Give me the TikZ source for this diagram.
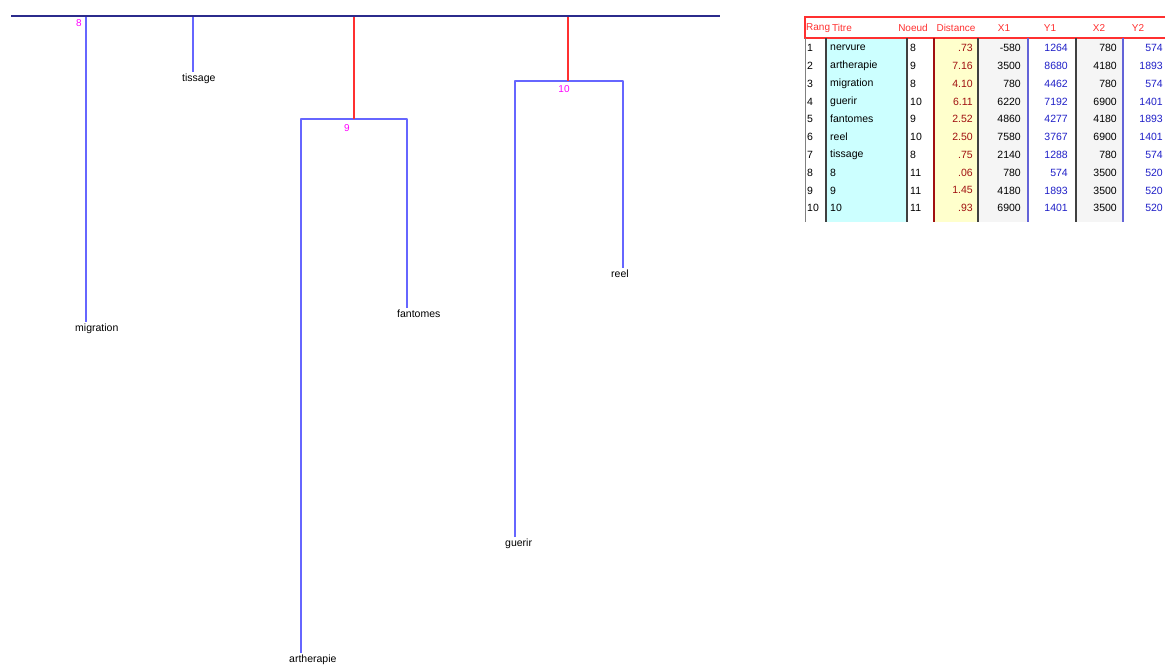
\documentclass[tikz,border=0pt]{standalone}
\usepackage{fontspec}
\setmainfont{Liberation Sans}
\usepackage{tikz}
\definecolor{lien}{HTML}{6666ff}
\definecolor{rouge}{HTML}{ff3030}
\definecolor{marine}{HTML}{2b2b8c}
\definecolor{rose}{HTML}{ff00ff}
\definecolor{ciel}{HTML}{ccffff}
\definecolor{creme}{HTML}{ffffcc}
\definecolor{gris}{HTML}{f5f5f5}
\definecolor{bordeaux}{HTML}{a01010}
\definecolor{bleutxt}{HTML}{2020c8}
\definecolor{sombre}{HTML}{404040}

\begin{document}
\begin{tikzpicture}[x=1pt, y=-1pt,
  lien/.style={draw=lien, line width=2pt, line join=round},
  rougetrait/.style={draw=rouge, line width=2pt},
  feuille/.style={font=\fontsize{10.5}{12}\selectfont, anchor=north west, inner sep=2pt},
  num/.style={font=\fontsize{10}{11}\selectfont, text=rose, inner sep=0pt},
  tete/.style={font=\fontsize{10}{11}\selectfont, text=rouge, inner sep=0pt},
  cg/.style={font=\fontsize{10.5}{11}\selectfont, anchor=west, inner sep=0pt},
  cd/.style={font=\fontsize{10.5}{11}\selectfont, anchor=east, inner sep=0pt}]
\useasboundingbox[fill=white] (0,0) rectangle (1165,666);

% Dendrogram
\coordinate (hautg) at (11,16);
\coordinate (hautd) at (720,16);
\coordinate (c8) at (86,16);
\coordinate (ct) at (193,16);
\coordinate (c9) at (354,119);
\coordinate (g9) at (301,119);
\coordinate (d9) at (407,119);
\coordinate (c10) at (568,81);
\coordinate (g10) at (515,81);
\coordinate (d10) at (623,81);

% Leaves
\node[feuille] (migration) at (73,322) {migration};
\node[feuille] (tissage) at (180,72) {tissage};
\node[feuille] (artherapie) at (287,653) {artherapie};
\node[feuille] (fantomes) at (395,308) {fantomes};
\node[feuille] (guerir) at (503,537) {guerir};
\node[feuille] (reel) at (609,268) {reel};

% Branches
\draw[lien] (c8) -- (c8 |- migration.north);
\draw[lien] (ct) -- (ct |- tissage.north);
\draw[lien] (g9 |- artherapie.north) -- (g9) -- (d9) -- (d9 |- fantomes.north);
\draw[lien] (g10 |- guerir.north) -- (g10) -- (d10) -- (d10 |- reel.north);
\draw[rougetrait] (c9 |- hautg) -- (c9);
\draw[rougetrait] (c10 |- hautg) -- (c10);
\draw[draw=marine, line width=2pt] (hautg) -- (hautd);

% Node numbers
\node[num] (n8) at (79,23) {8};
\node[num] (n9) at (347,128) {9};
\node[num] (n10) at (564,89) {10};

% Table background
\fill[ciel] (827,38) rectangle (906,222);
\fill[creme] (935,38) rectangle (977,222);
\fill[gris] (979,38) rectangle (1027,222);
\fill[gris] (1077,38) rectangle (1122,222);

% Table lines
\draw[rouge, line width=1.2pt] (1166,17) -- (805,17) -- (805,38) -- (1166,38);
\draw[gray, line width=1pt] (805,38) -- (805,222);
\draw[sombre, line width=1.5pt] (826,38) -- (826,222);
\draw[sombre, line width=1.5pt] (907,38) -- (907,222);
\draw[bordeaux, line width=1.5pt] (934,38) -- (934,222);
\draw[sombre, line width=1.5pt] (978,38) -- (978,222);
\draw[bleutxt!70, line width=1.5pt] (1028,38) -- (1028,222);
\draw[sombre, line width=1.5pt] (1076,38) -- (1076,222);
\draw[bleutxt!70, line width=1.5pt] (1123,38) -- (1123,222);

% Header
\node[tete, anchor=west] (hrang) at (806,28) {Rang};
\node[tete, anchor=west] (htitre) at (832,28) {Titre};
\node[tete] (hnoeud) at (913,28) {Noeud};
\node[tete] (hdist) at (956,28) {Distance};
\node[tete] (hxa) at (1004,28) {X1};
\node[tete] (hya) at (1050,28) {Y1};
\node[tete] (hxb) at (1099,28) {X2};
\node[tete] (hyb) at (1138,28) {Y2};

% Rows
\node[cg] (rang1) at (807,48) {1}; \node[cg] (titre1) at (830,48) {nervure}; \node[cg] (noeud1) at (910,48) {8}; \node[cd, text=bordeaux] (dist1) at (973,48) {.73}; \node[cd] (xa1) at (1021,48) {-580}; \node[cd, text=bleutxt] (ya1) at (1068,48) {1264}; \node[cd] (xb1) at (1117,48) {780}; \node[cd, text=bleutxt] (yb1) at (1163,48) {574};
\node[cg] (rang2) at (807,65.8) {2}; \node[cg] (titre2) at (830,65.8) {artherapie}; \node[cg] (noeud2) at (910,65.8) {9}; \node[cd, text=bordeaux] (dist2) at (973,65.8) {7.16}; \node[cd] (xa2) at (1021,65.8) {3500}; \node[cd, text=bleutxt] (ya2) at (1068,65.8) {8680}; \node[cd] (xb2) at (1117,65.8) {4180}; \node[cd, text=bleutxt] (yb2) at (1163,65.8) {1893};
\node[cg] (rang3) at (807,83.6) {3}; \node[cg] (titre3) at (830,83.6) {migration}; \node[cg] (noeud3) at (910,83.6) {8}; \node[cd, text=bordeaux] (dist3) at (973,83.6) {4.10}; \node[cd] (xa3) at (1021,83.6) {780}; \node[cd, text=bleutxt] (ya3) at (1068,83.6) {4462}; \node[cd] (xb3) at (1117,83.6) {780}; \node[cd, text=bleutxt] (yb3) at (1163,83.6) {574};
\node[cg] (rang4) at (807,101.4) {4}; \node[cg] (titre4) at (830,101.4) {guerir}; \node[cg] (noeud4) at (910,101.4) {10}; \node[cd, text=bordeaux] (dist4) at (973,101.4) {6.11}; \node[cd] (xa4) at (1021,101.4) {6220}; \node[cd, text=bleutxt] (ya4) at (1068,101.4) {7192}; \node[cd] (xb4) at (1117,101.4) {6900}; \node[cd, text=bleutxt] (yb4) at (1163,101.4) {1401};
\node[cg] (rang5) at (807,119.2) {5}; \node[cg] (titre5) at (830,119.2) {fantomes}; \node[cg] (noeud5) at (910,119.2) {9}; \node[cd, text=bordeaux] (dist5) at (973,119.2) {2.52}; \node[cd] (xa5) at (1021,119.2) {4860}; \node[cd, text=bleutxt] (ya5) at (1068,119.2) {4277}; \node[cd] (xb5) at (1117,119.2) {4180}; \node[cd, text=bleutxt] (yb5) at (1163,119.2) {1893};
\node[cg] (rang6) at (807,137) {6}; \node[cg] (titre6) at (830,137) {reel}; \node[cg] (noeud6) at (910,137) {10}; \node[cd, text=bordeaux] (dist6) at (973,137) {2.50}; \node[cd] (xa6) at (1021,137) {7580}; \node[cd, text=bleutxt] (ya6) at (1068,137) {3767}; \node[cd] (xb6) at (1117,137) {6900}; \node[cd, text=bleutxt] (yb6) at (1163,137) {1401};
\node[cg] (rang7) at (807,154.8) {7}; \node[cg] (titre7) at (830,154.8) {tissage}; \node[cg] (noeud7) at (910,154.8) {8}; \node[cd, text=bordeaux] (dist7) at (973,154.8) {.75}; \node[cd] (xa7) at (1021,154.8) {2140}; \node[cd, text=bleutxt] (ya7) at (1068,154.8) {1288}; \node[cd] (xb7) at (1117,154.8) {780}; \node[cd, text=bleutxt] (yb7) at (1163,154.8) {574};
\node[cg] (rang8) at (807,172.6) {8}; \node[cg] (titre8) at (830,172.6) {8}; \node[cg] (noeud8) at (910,172.6) {11}; \node[cd, text=bordeaux] (dist8) at (973,172.6) {.06}; \node[cd] (xa8) at (1021,172.6) {780}; \node[cd, text=bleutxt] (ya8) at (1068,172.6) {574}; \node[cd] (xb8) at (1117,172.6) {3500}; \node[cd, text=bleutxt] (yb8) at (1163,172.6) {520};
\node[cg] (rang9) at (807,190.4) {9}; \node[cg] (titre9) at (830,190.4) {9}; \node[cg] (noeud9) at (910,190.4) {11}; \node[cd, text=bordeaux] (dist9) at (973,190.4) {1.45}; \node[cd] (xa9) at (1021,190.4) {4180}; \node[cd, text=bleutxt] (ya9) at (1068,190.4) {1893}; \node[cd] (xb9) at (1117,190.4) {3500}; \node[cd, text=bleutxt] (yb9) at (1163,190.4) {520};
\node[cg] (rang10) at (807,208.2) {10}; \node[cg] (titre10) at (830,208.2) {10}; \node[cg] (noeud10) at (910,208.2) {11}; \node[cd, text=bordeaux] (dist10) at (973,208.2) {.93}; \node[cd] (xa10) at (1021,208.2) {6900}; \node[cd, text=bleutxt] (ya10) at (1068,208.2) {1401}; \node[cd] (xb10) at (1117,208.2) {3500}; \node[cd, text=bleutxt] (yb10) at (1163,208.2) {520};
\end{tikzpicture}
\end{document}
